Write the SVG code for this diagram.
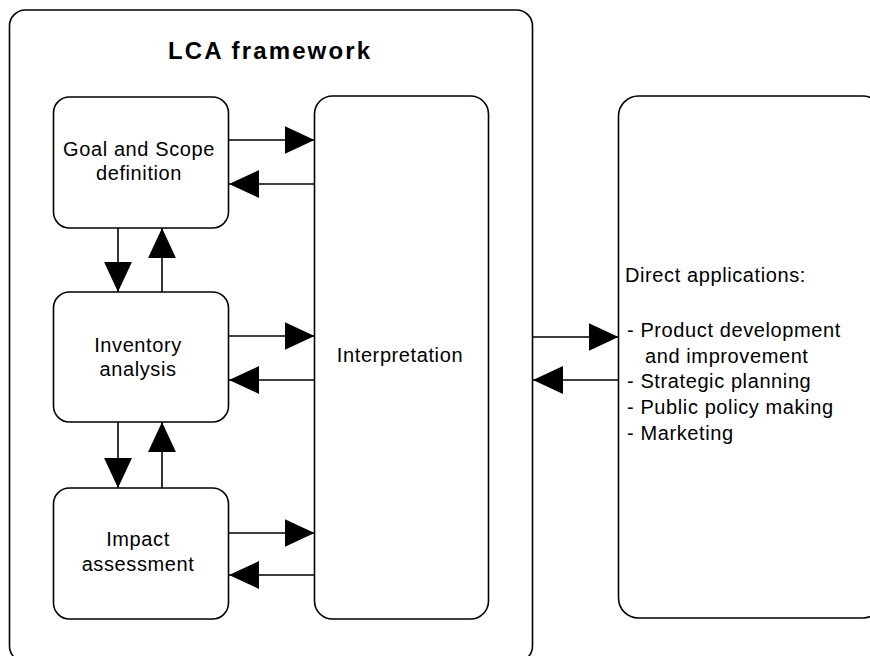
<svg xmlns="http://www.w3.org/2000/svg" width="870" height="656" viewBox="0 0 870 656">
<defs>
<style>
.box{fill:#fff;stroke:#000;stroke-width:1.6}
.t{font-family:"Liberation Sans",Arial,sans-serif;font-size:20px;fill:#000;letter-spacing:0.6px}
.c{text-anchor:middle}
.title{font-family:"Liberation Sans",Arial,sans-serif;font-size:24px;font-weight:bold;fill:#000;text-anchor:middle}
.ln{stroke:#000;stroke-width:1.6;fill:none;marker-end:url(#ah)}
</style>
<marker id="ah" markerUnits="userSpaceOnUse" markerWidth="30" markerHeight="28" viewBox="0 0 28 26" refX="28" refY="13" orient="auto">
<path d="M0,0 L28,13 L0,26 z" fill="#000"/>
</marker>
</defs>
<rect width="870" height="656" fill="#fff"/>
<g id="frame">
<rect class="box" x="9.5" y="10" width="523" height="652" rx="16" ry="16"/>
<text class="title" x="269" y="59" textLength="202" lengthAdjust="spacing">LCA framework</text>
</g>
<g id="goal">
<rect class="box" x="53.5" y="97" width="175" height="131" rx="16" ry="16"/>
<text class="t c" x="139" y="156">Goal and Scope</text>
<text class="t c" x="139" y="180">definition</text>
</g>
<g id="inventory">
<rect class="box" x="53.5" y="292" width="175" height="130" rx="16" ry="16"/>
<text class="t c" x="138" y="352">Inventory</text>
<text class="t c" x="138" y="376">analysis</text>
</g>
<g id="impact">
<rect class="box" x="53.5" y="488" width="175" height="131" rx="16" ry="16"/>
<text class="t c" x="138" y="546">Impact</text>
<text class="t c" x="138" y="571">assessment</text>
</g>
<g id="interpretation">
<rect class="box" x="314.5" y="96" width="174" height="523" rx="18" ry="18"/>
<text class="t c" x="400" y="362">Interpretation</text>
</g>
<g id="applications">
<rect class="box" x="618.5" y="96" width="264" height="522" rx="20" ry="20"/>
<text class="t" x="625" y="282">Direct applications:</text>
<text class="t" x="627" y="337">- Product development</text>
<text class="t" x="645" y="363">and improvement</text>
<text class="t" x="627" y="388">- Strategic planning</text>
<text class="t" x="627" y="414">- Public policy making</text>
<text class="t" x="627" y="440">- Marketing</text>
</g>
<g id="connectors">
<line class="ln" x1="228.5" y1="140" x2="314.5" y2="140"/>
<line class="ln" x1="314.5" y1="184" x2="229" y2="184"/>
<line class="ln" x1="228.5" y1="336" x2="314.5" y2="336"/>
<line class="ln" x1="314.5" y1="380" x2="229" y2="380"/>
<line class="ln" x1="228.5" y1="533" x2="314.5" y2="533"/>
<line class="ln" x1="314.5" y1="575" x2="229" y2="575"/>
<line class="ln" x1="118" y1="228" x2="118" y2="292"/>
<line class="ln" x1="162" y1="292" x2="162" y2="228"/>
<line class="ln" x1="118" y1="422" x2="118" y2="488"/>
<line class="ln" x1="162" y1="488" x2="162" y2="422"/>
<line class="ln" x1="532.5" y1="337" x2="618.5" y2="337"/>
<line class="ln" x1="618.5" y1="380" x2="533" y2="380"/>
</g>
</svg>
